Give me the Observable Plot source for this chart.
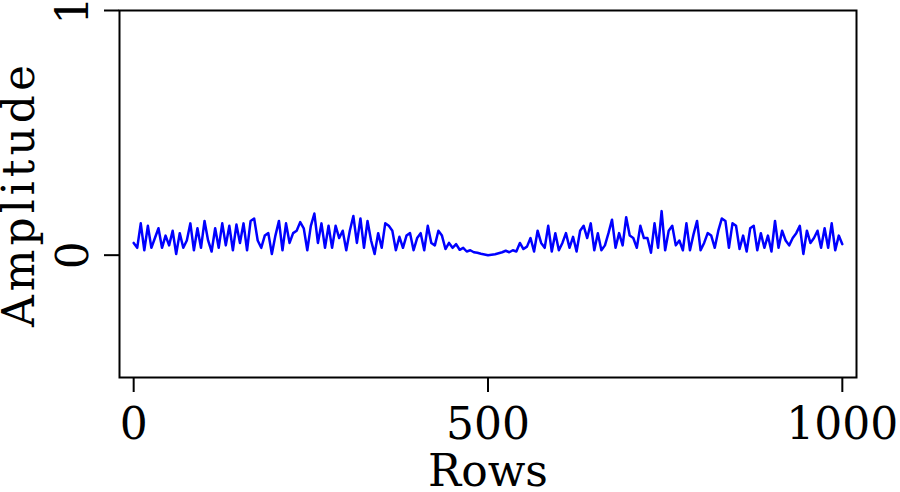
<!DOCTYPE html>
<html><head><meta charset="utf-8">
<script src="https://cdn.jsdelivr.net/npm/d3@7"></script>
<script src="https://cdn.jsdelivr.net/npm/@observablehq/plot@0.6"></script>
<style>body{margin:0;background:#fff} svg{display:block}</style>
</head><body><div id="chart"></div>
<script>
const amplitude = [
  0.05, 0.03, 0.13, 0.02, 0.12, 0.03, 0.07, 0.11, 0.03, 0.08,   // 0-45
  0.04, 0.10, 0.005, 0.09, 0.03, 0.06, 0.13, 0.02, 0.11, 0.03,  // 50-95
  0.14, 0.06, 0.015, 0.11, 0.03, 0.13, 0.04, 0.12, 0.02, 0.125, // 100-145
  0.05, 0.13, 0.02, 0.14, 0.15, 0.06, 0.03, 0.08, 0.09, 0.005,  // 150-195
  0.08, 0.14, 0.02, 0.13, 0.05, 0.09, 0.10, 0.135, 0.11, 0.02,  // 200-245
  0.12, 0.17, 0.05, 0.13, 0.03, 0.12, 0.03, 0.12, 0.07, 0.10,   // 250-295
  0.02, 0.10, 0.16, 0.05, 0.15, 0.03, 0.14, 0.06, 0.005, 0.09,  // 300-345
  0.03, 0.13, 0.12, 0.10, 0.02, 0.075, 0.03, 0.08, 0.09, 0.02,  // 350-395
  0.07, 0.09, 0.02, 0.12, 0.05, 0.04, 0.10, 0.08, 0.025, 0.05,  // 400-445
  0.03, 0.045, 0.022, 0.03, 0.015, 0.02, 0.012, 0.01, 0.006, 0.003, // 450-495
  0.0, 0.002, 0.004, 0.008, 0.012, 0.018, 0.012, 0.02, 0.015, 0.05, // 500-545
  0.025, 0.035, 0.07, 0.015, 0.10, 0.05, 0.03, 0.12, 0.015, 0.09,   // 550-595
  0.02, 0.05, 0.09, 0.03, 0.075, 0.015, 0.10, 0.12, 0.07, 0.13,     // 600-645
  0.02, 0.09, 0.02, 0.04, 0.09, 0.145, 0.03, 0.09, 0.04, 0.155,     // 650-695
  0.08, 0.07, 0.03, 0.12, 0.07, 0.07, 0.01, 0.13, 0.03, 0.18,       // 700-745
  0.02, 0.10, 0.12, 0.04, 0.06, 0.02, 0.13, 0.02, 0.085, 0.14,      // 750-795
  0.02, 0.05, 0.09, 0.08, 0.03, 0.10, 0.15, 0.14, 0.03, 0.13,       // 800-845
  0.12, 0.025, 0.08, 0.015, 0.11, 0.12, 0.02, 0.09, 0.03, 0.08,     // 850-895
  0.015, 0.14, 0.03, 0.10, 0.06, 0.04, 0.07, 0.09, 0.12, 0.005,     // 900-945
  0.10, 0.05, 0.07, 0.10, 0.03, 0.11, 0.03, 0.13, 0.02, 0.08,       // 950-995
  0.045                                                              // 1000
];
const rows = d3.range(0, 1001, 5);
const xTicks = [0, 500, 1000];
const yTicks = [0, 1];
const xLabel = "Rows";
const yLabel = "Amplitude";

const data = rows.map((r, i) => ({row: r, amp: amplitude[i]}));
const FONT = "DejaVu Serif";

const chart = Plot.plot({
  width: 900,
  height: 492,
  marginLeft: 119,
  marginRight: 44,
  marginTop: 10,
  marginBottom: 115,
  style: {fontFamily: FONT, fontSize: "44px", color: "black", background: "white", overflow: "visible"},
  x: {domain: [-20, 1020]},
  y: {domain: [-0.5, 1]},
  marks: [
    Plot.line(data, {x: "row", y: "amp", stroke: "#0000ff", strokeWidth: 2.5, strokeLinejoin: "round"}),
    Plot.frame({stroke: "black", strokeWidth: 2}),
    Plot.axisX({ticks: xTicks, tickSize: 15, tickPadding: 15, tickFormat: d => String(d), label: null, strokeWidth: 2, fontSize: 44}),
    Plot.axisY({ticks: yTicks, tickSize: 15, tickPadding: 17, tickRotate: -90, tickFormat: d => String(d), label: null, strokeWidth: 2, fontSize: 44}),
    Plot.text([xLabel], {frameAnchor: "bottom", dy: 94, fontSize: 44, lineAnchor: "middle", text: d => d}),
    Plot.text([yLabel], {frameAnchor: "left", dx: -100, dy: 0, rotate: -90, fontSize: 44, textAnchor: "middle", lineAnchor: "middle", text: d => d})
  ]
});
d3.select(chart).selectAll("text")
  .filter(function () { return this.textContent === yLabel; })
  .style("letter-spacing", "4px");
document.getElementById("chart").appendChild(chart);
</script>
</body></html>
